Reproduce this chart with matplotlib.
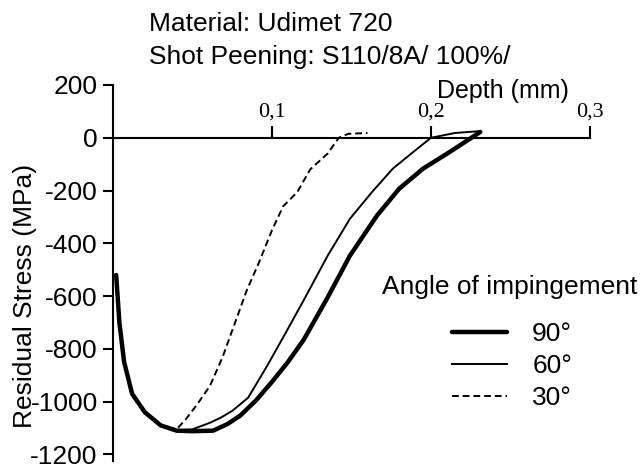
import matplotlib.pyplot as plt

plt.rcParams['font.family'] = ['Liberation Sans', 'DejaVu Sans']
plt.rcParams['axes.unicode_minus'] = False

# Residual stress profiles (depth in mm, stress in MPa)
depth_90 = [0.002, 0.004, 0.007, 0.012, 0.02, 0.03, 0.04, 0.05, 0.063, 0.072, 0.08,
            0.09, 0.1, 0.11, 0.12, 0.135, 0.149, 0.166, 0.18, 0.195, 0.212, 0.231]
stress_90 = [-520, -700, -850, -970, -1040, -1090, -1110, -1112, -1110, -1085, -1053,
             -995, -925, -850, -765, -605, -447, -295, -193, -117, -53, 22]

depth_60 = [0.002, 0.004, 0.007, 0.012, 0.02, 0.03, 0.04, 0.05, 0.061, 0.068, 0.075,
            0.085, 0.097, 0.109, 0.12, 0.135, 0.149, 0.163, 0.176, 0.189, 0.2, 0.215, 0.23]
stress_60 = [-520, -700, -850, -970, -1040, -1090, -1108, -1105, -1080, -1060, -1035,
             -985, -864, -735, -615, -447, -307, -205, -117, -53, 0, 18, 25]

depth_30 = [0.002, 0.004, 0.007, 0.012, 0.02, 0.03, 0.04, 0.046, 0.053, 0.061, 0.069,
            0.075, 0.084, 0.092, 0.1, 0.107, 0.116, 0.124, 0.135, 0.142, 0.148, 0.16]
stress_30 = [-520, -700, -850, -970, -1040, -1090, -1105, -1065, -1010, -940, -830,
             -730, -580, -470, -350, -260, -205, -120, -60, 0, 15, 18]

x_ticks = [0.1, 0.2, 0.3]
x_labels = ['0,1', '0,2', '0,3']
y_ticks = [200, 0, -200, -400, -600, -800, -1000, -1200]

fig = plt.figure(figsize=(6.44, 4.68), dpi=100)
ax = fig.add_axes([113 / 644, 1 - 461 / 468, 477 / 644, 376 / 468])

ax.plot(depth_90, stress_90, color='black', lw=3.2, solid_capstyle='round', label='90°')
ax.plot(depth_60, stress_60, color='black', lw=1.4, label='60°')
ax.plot(depth_30, stress_30, color='black', lw=1.4, ls=(0, (3.5, 2)), label='30°')

ax.set_xlim(0, 0.3)
ax.set_ylim(-1225, 200)

# axes: y spine on the left, x axis drawn through zero
ax.spines['top'].set_visible(False)
ax.spines['right'].set_visible(False)
ax.spines['bottom'].set_position(('data', 0))
ax.spines['left'].set_linewidth(1.5)
ax.spines['bottom'].set_linewidth(1.5)

ax.set_yticks(y_ticks)
ax.tick_params(axis='y', direction='out', length=7, width=1.5, pad=4, labelsize=19)

ax.set_xticks(x_ticks, x_labels)
ax.tick_params(axis='x', direction='in', length=8.5, width=1.5, pad=-12)
for lab in ax.get_xticklabels():
    lab.set_va('bottom')
    lab.set_family(['Liberation Serif', 'DejaVu Serif'])
    lab.set_fontsize(16)

ax.set_ylabel('Residual Stress (MPa)', fontsize=19)
ax.yaxis.set_label_coords(-0.16, 0.44)

ax.text(0.245, 150, 'Depth (mm)', fontsize=18, ha='center', va='baseline')

fig.text(149 / 644, 1 - 24 / 468, 'Material: Udimet 720', fontsize=19, ha='left', va='center')
fig.text(149 / 644, 1 - 57 / 468, 'Shot Peening: S110/8A/ 100%/', fontsize=19, ha='left', va='center')

fig.text(510 / 644, 1 - 287 / 468, 'Angle of impingement', fontsize=19, ha='center', va='center')
leg = ax.legend(frameon=False, fontsize=19, loc='center',
                bbox_to_anchor=(512 / 644, 1 - 366 / 468),
                bbox_transform=fig.transFigure, handlelength=2.1, handletextpad=0.95,
                labelspacing=0.3, borderpad=0)

fig.savefig('out.png', dpi=100)
